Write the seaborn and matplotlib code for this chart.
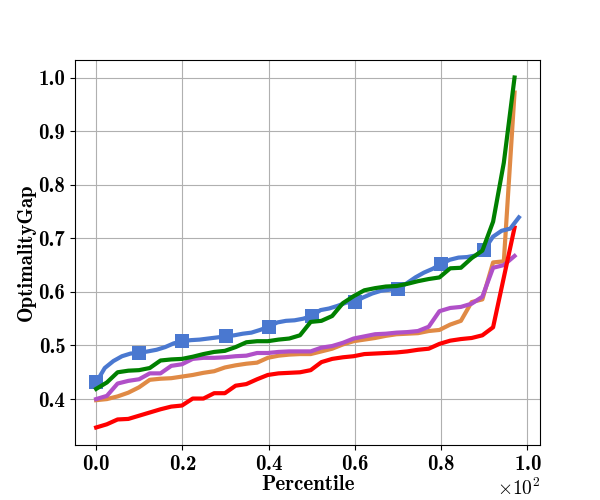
import numpy as np
import pandas as pd
import matplotlib
matplotlib.use("Agg")
import matplotlib.pyplot as plt
import seaborn as sns

# percentile grids (in percent)
x_blue = np.arange(0, 100, 2)          # 50 points, 0..98
x_other = np.linspace(0, 97, 40)       # 40 points, 0..97

blue = [0.431, 0.458, 0.471, 0.480, 0.485, 0.486, 0.489, 0.492, 0.497, 0.504,
        0.508, 0.510, 0.511, 0.513, 0.515, 0.517, 0.519, 0.522, 0.524, 0.529,
        0.535, 0.543, 0.546, 0.547, 0.550, 0.555, 0.566, 0.569, 0.574, 0.580,
        0.582, 0.590, 0.597, 0.602, 0.604, 0.606, 0.616, 0.627, 0.636, 0.643,
        0.652, 0.660, 0.664, 0.665, 0.668, 0.679, 0.703, 0.714, 0.718, 0.739]

green = [0.419, 0.431, 0.450, 0.453, 0.454, 0.458, 0.472, 0.474, 0.475, 0.479,
         0.484, 0.488, 0.490, 0.497, 0.506, 0.508, 0.508, 0.511, 0.513, 0.519,
         0.544, 0.546, 0.555, 0.579, 0.592, 0.603, 0.607, 0.610, 0.611, 0.615,
         0.620, 0.624, 0.627, 0.644, 0.645, 0.663, 0.677, 0.731, 0.841, 1.000]

orange = [0.398, 0.400, 0.405, 0.412, 0.422, 0.436, 0.438, 0.439, 0.442, 0.445,
          0.449, 0.452, 0.459, 0.463, 0.466, 0.468, 0.477, 0.481, 0.483, 0.484,
          0.484, 0.489, 0.494, 0.502, 0.508, 0.511, 0.514, 0.518, 0.521, 0.522,
          0.523, 0.527, 0.529, 0.539, 0.546, 0.581, 0.586, 0.655, 0.657, 0.972]

purple = [0.400, 0.406, 0.429, 0.434, 0.437, 0.448, 0.448, 0.462, 0.465, 0.475,
          0.477, 0.477, 0.478, 0.480, 0.481, 0.486, 0.486, 0.488, 0.489, 0.489,
          0.489, 0.496, 0.499, 0.505, 0.513, 0.517, 0.521, 0.522, 0.524, 0.525,
          0.527, 0.535, 0.564, 0.570, 0.572, 0.578, 0.591, 0.645, 0.650, 0.667]

red = [0.347, 0.353, 0.362, 0.363, 0.369, 0.375, 0.381, 0.386, 0.388, 0.401,
       0.401, 0.411, 0.411, 0.425, 0.428, 0.437, 0.445, 0.448, 0.449, 0.450,
       0.454, 0.469, 0.475, 0.478, 0.480, 0.484, 0.485, 0.486, 0.487, 0.489,
       0.492, 0.494, 0.503, 0.509, 0.512, 0.514, 0.519, 0.534, 0.627, 0.720]

plt.rcParams['font.family'] = ['cmb10', 'DejaVu Serif']
plt.rcParams['mathtext.fontset'] = 'cm'
plt.rcParams['axes.unicode_minus'] = False
plt.rcParams['font.size'] = 15

fig, ax = plt.subplots(figsize=(6, 5), dpi=100)

sns.lineplot(x=x_other, y=orange, color="#e08a45", lw=3, ax=ax)
sns.lineplot(x=x_other, y=purple, color="#b050c8", lw=3, ax=ax)
sns.lineplot(x=x_other, y=red, color="red", lw=3, ax=ax)
sns.lineplot(x=x_blue, y=blue, color="#4a78d0", lw=3, marker="s",
             markersize=10, markeredgewidth=0, markevery=5, ax=ax)
sns.lineplot(x=x_other, y=green, color="green", lw=3, ax=ax)

ax.grid(True, color="#b0b0b0", lw=0.8)
ax.set_axisbelow(True)
ax.set_xticks([0, 20, 40, 60, 80, 100])
ax.ticklabel_format(axis='x', style='sci', scilimits=(0, 0), useMathText=True)
ax.xaxis.get_offset_text().set_fontfamily('cmr10')
ax.xaxis.get_offset_text().set_fontsize(14)
ax.set_xlabel("Percentile", labelpad=1)
ax.set_ylabel("OptimalityGap", labelpad=2)

plt.savefig("out.png", dpi=100)
